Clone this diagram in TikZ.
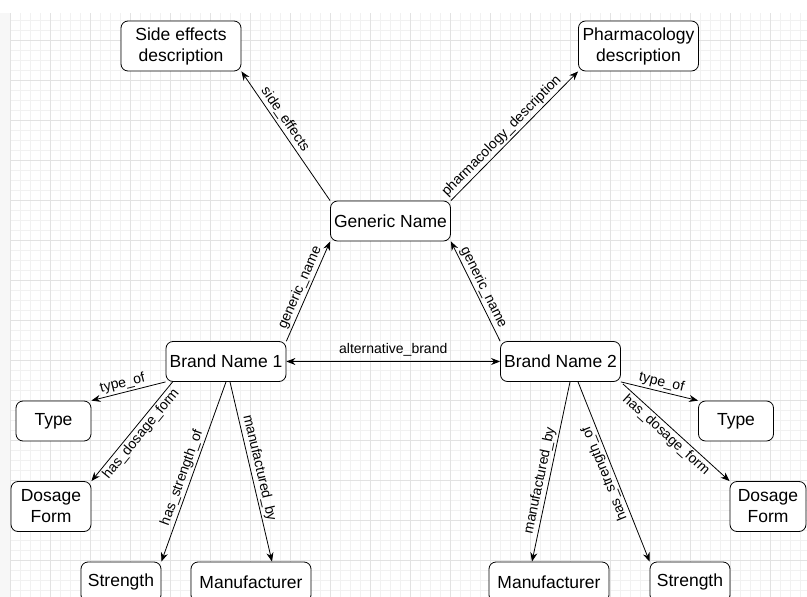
\documentclass[tikz,border=0pt]{standalone}
\usepackage{fontspec}
\setmainfont{Liberation Sans}
\usetikzlibrary{arrows.meta,positioning}
\newcommand{\boxfont}{\fontsize{17.5}{21}\selectfont}
\newcommand{\relfont}{\fontsize{14}{16}\selectfont}
\definecolor{gridminor}{HTML}{F1F1F1}
\definecolor{gridmajor}{HTML}{E2E2E2}
\definecolor{stripgray}{HTML}{F7F7F7}
\tikzset{
  entity/.style={draw, rounded corners=7pt, line width=0.8pt, fill=white,
    align=center, inner sep=0pt, font=\boxfont,
    minimum width=120pt, minimum height=40pt},
  rel/.style={-{Stealth[length=9pt,width=7pt]}, line width=0.8pt},
  lbl/.style={sloped, font=\relfont, inner sep=2pt},
}
\begin{document}
\begin{tikzpicture}[x=1pt,y=-1pt]
  \useasboundingbox (0,0) rectangle (807,597);
  %% grid
  \fill[stripgray] (0,13) rectangle (10,597);
  \foreach \gx in {20,30,...,800} \draw[gridminor,line width=0.6pt] (\gx,13) -- (\gx,597);
  \foreach \gy in {20,30,...,590} \draw[gridminor,line width=0.6pt] (10,\gy) -- (807,\gy);
  \foreach \gx in {10,50,...,800} \draw[gridmajor,line width=0.6pt] (\gx,13) -- (\gx,597);
  \foreach \gy in {40,80,...,590} \draw[gridmajor,line width=0.6pt] (10,\gy) -- (807,\gy);

  %% top
  \node[entity, minimum height=50pt] (side) at (181,46) {Side effects\\description};
  \node[entity, minimum height=50pt] (pharm) at (638.5,46) {Pharmacology\\description};
  \node[entity] (gen) at (390.5,221) {Generic Name};

  %% brands
  \node[entity] (bn1) at (226,361.5) {Brand Name 1};
  \node[entity] (bn2) at (560.5,361.5) {Brand Name 2};

  %% left side
  \node[entity, minimum width=75pt] (type1) at (53.5,421) {Type};
  \node[entity, minimum width=80pt, minimum height=50pt] (dose1) at (51,506.5) {Dosage\\Form};
  \node[entity, minimum width=80pt] (str1) at (121,582) {Strength};
  \node[entity] (man1) at (251,582) {Manufacturer};

  %% right side
  \node[entity, minimum width=75pt] (type2) at (736,421) {Type};
  \node[entity, minimum width=76pt, minimum height=50pt] (dose2) at (768,506.5) {Dosage\\Form};
  \node[entity] (man2) at (549,582) {Manufacturer};
  \node[entity, minimum width=80pt] (str2) at (690,582) {Strength};

  \draw[rel] (gen.north west) -- node[lbl, above, pos=0.59] {side\_effects} (side.south east);
  \draw[rel] (gen.north east) -- node[lbl, above, pos=0.45] {pharmacology\_description} (pharm.south west);
  \draw[rel] (bn1.north east) -- node[lbl, above, pos=0.5] {generic\_name} (gen.south west);
  \draw[rel] (bn2.north west) -- node[lbl, above, pos=0.5] {generic\_name} (gen.south east);
  \draw[rel, {Stealth[length=9pt,width=7pt]}-{Stealth[length=9pt,width=7pt]}] (bn1.east) -- node[lbl, above=3pt, pos=0.5] {alternative\_brand} (bn2.west);

  \draw[rel] (bn1.south west) -- node[lbl, above, pos=0.55] {type\_of} (type1.north east);
  \draw[rel] ([xshift=7pt]bn1.south west) -- node[lbl, below, pos=0.47] {has\_dosage\_form} (dose1.north east);
  \draw[rel] (bn1.south) -- node[lbl, above, pos=0.55] {has\_strength\_of} (str1.north east);
  \draw[rel] ([xshift=4pt]bn1.south) -- node[lbl, above, pos=0.49] {manufactured\_by} ([xshift=21pt]man1.north);

  \draw[rel] (bn2.south east) -- node[lbl, above, pos=0.5] {type\_of} (type2.north west);
  \draw[rel] ([xshift=2pt,yshift=-2pt]bn2.south east) -- node[lbl, below, pos=0.46] {has\_dosage\_form} (dose2.north west);
  \draw[rel] ([xshift=9.5pt]bn2.south) -- node[lbl, above, pos=0.56] {manufactured\_by} ([xshift=-17pt]man2.north);
  \draw[rel] ([xshift=17.5pt]bn2.south) -- node[font=\relfont, inner sep=2pt, rotate=112, above, pos=0.49] {has\_strength\_of} (str2.north west);
\end{tikzpicture}
\end{document}
